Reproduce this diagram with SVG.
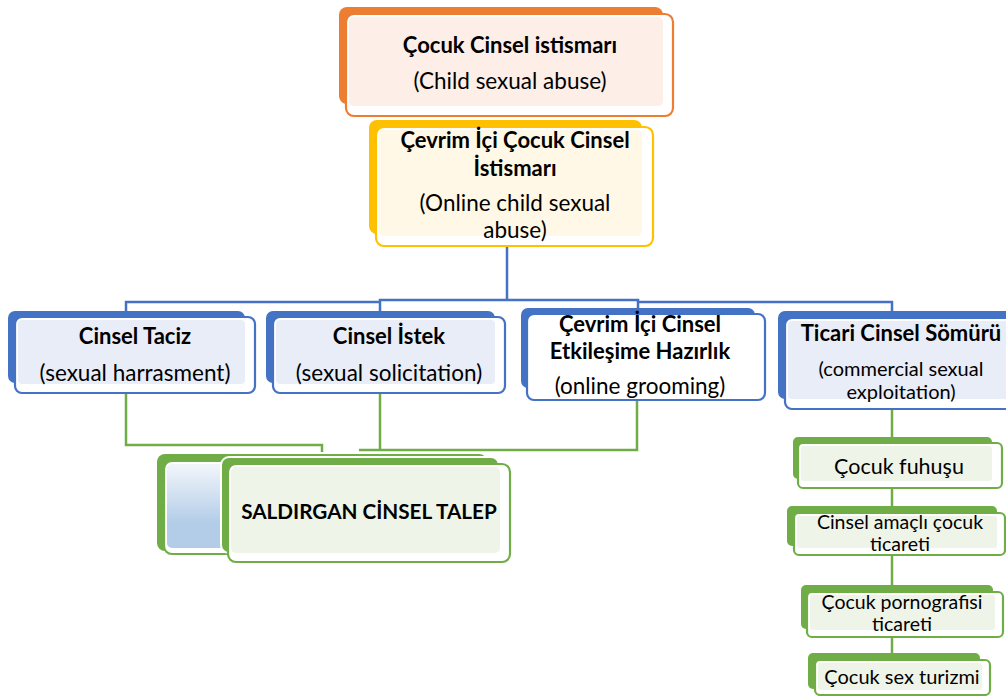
<svg xmlns="http://www.w3.org/2000/svg" width="1006" height="696" viewBox="0 0 1006 696">
<defs>
<style>
.t{font-family:Lato,"Open Sans","Liberation Sans",sans-serif;fill:#000;text-anchor:middle}
.b{font-weight:bold;font-size:22px}
.r{font-size:22.5px}
.s{font-size:20px}
.s2{font-size:19.5px}
.front{fill:#fff;stroke-width:2.2}
.bl{stroke:#4472C4;stroke-width:2.5;fill:none}
.gl{stroke:#70AD47;stroke-width:2.5;fill:none}
</style>
<linearGradient id="gb" x1="0" y1="0" x2="0" y2="1">
<stop offset="0" stop-color="#F2F6FB"/>
<stop offset="0.7" stop-color="#B3CDE8"/>
<stop offset="1" stop-color="#B3CDE8"/>
</linearGradient>
</defs>
<rect width="1006" height="696" fill="#fff"/>

<g id="connectors">
<path class="bl" d="M507,246 V300 M126,312 V302 H380 V300 H638 V302 H892 V312 M380,300 V312 M638,302 V312"/>
<path class="gl" d="M126,393 V445 H322 V452 M380,393 V450 M637,400 V450 H359 M892,409 V660"/>
</g>

<g id="n1">
<rect x="339" y="7" width="324" height="97" rx="8" fill="#ED7D31"/>
<rect x="346" y="14" width="327" height="102" rx="8" class="front" stroke="#ED7D31"/>
<rect x="349" y="17" width="314" height="89" rx="5" fill="#FDEEE7"/>
<text class="t b" x="510" y="53">Çocuk Cinsel istismarı</text>
<text class="t r" x="510" y="89">(Child sexual abuse)</text>
</g>

<g id="n2">
<rect x="369" y="120" width="273" height="114" rx="8" fill="#FFC000"/>
<rect x="376" y="127" width="277" height="119" rx="8" class="front" stroke="#FFC000"/>
<rect x="379" y="130" width="263" height="106" rx="5" fill="#FFF8E6"/>
<text class="t b" x="515" y="148">Çevrim İçi Çocuk Cinsel</text>
<text class="t b" x="515" y="176">İstismarı</text>
<text class="t r" x="515" y="211">(Online child sexual</text>
<text class="t r" x="515" y="238">abuse)</text>
</g>

<g id="n3">
<rect x="8" y="311" width="237" height="72" rx="7" fill="#4472C4"/>
<rect x="15" y="317" width="240" height="76" rx="7" class="front" stroke="#4472C4"/>
<rect x="18" y="320" width="227" height="64" rx="4" fill="#E9EDF7"/>
<text class="t b" x="135" y="344">Cinsel Taciz</text>
<text class="t r" x="135" y="381">(sexual harrasment)</text>
</g>

<g id="n4">
<rect x="266" y="311" width="229" height="72" rx="7" fill="#4472C4"/>
<rect x="273" y="317" width="232" height="76" rx="7" class="front" stroke="#4472C4"/>
<rect x="276" y="320" width="219" height="64" rx="4" fill="#E9EDF7"/>
<text class="t b" x="389" y="344">Cinsel İstek</text>
<text class="t r" x="389" y="381">(sexual solicitation)</text>
</g>

<g id="n5">
<rect x="521" y="308" width="234" height="80" rx="7" fill="#4472C4"/>
<rect x="527" y="314" width="238" height="86" rx="7" class="front" stroke="#4472C4"/>
<text class="t b" x="640" y="332">Çevrim İçi Cinsel</text>
<text class="t b" x="640" y="359">Etkileşime Hazırlık</text>
<text class="t r" x="640" y="394">(online grooming)</text>
</g>

<g id="n6">
<rect x="778" y="311" width="240" height="88" rx="7" fill="#4472C4"/>
<rect x="785" y="318" width="240" height="91" rx="7" class="front" stroke="#4472C4"/>
<rect x="788" y="321" width="230" height="78" rx="4" fill="#E9EDF7"/>
<text class="t b" x="901" y="341">Ticari Cinsel Sömürü</text>
<text class="t s" x="901" y="376">(commercial sexual</text>
<text class="t s" x="901" y="399">exploitation)</text>
</g>

<g id="n7">
<rect x="157" y="454" width="330" height="97" rx="8" fill="#70AD47"/>
<rect x="164" y="461" width="330" height="93" rx="8" class="front" stroke="#70AD47"/>
<rect x="167" y="464" width="317" height="84" rx="5" fill="url(#gb)"/>
<rect x="221" y="457" width="278" height="96" rx="8" fill="#70AD47" stroke="#fff" stroke-width="2"/>
<rect x="228" y="464" width="282" height="98" rx="8" class="front" stroke="#70AD47"/>
<rect x="231" y="467" width="269" height="86" rx="5" fill="#EFF4E9"/>
<text class="t" x="369" y="519" font-size="20.7" font-weight="bold">SALDIRGAN CİNSEL TALEP</text>
</g>

<g id="n8">
<rect x="793" y="437" width="199" height="42" rx="5" fill="#70AD47"/>
<rect x="798" y="443" width="204" height="45" rx="5" class="front" stroke="#70AD47"/>
<rect x="801" y="446" width="191" height="35" rx="3" fill="#EFF4E9"/>
<text class="t" x="899" y="474" font-size="21.5">Çocuk fuhuşu</text>
</g>

<g id="n9">
<rect x="787" y="506" width="210" height="40" rx="5" fill="#70AD47"/>
<rect x="794" y="513" width="211" height="42" rx="5" class="front" stroke="#70AD47"/>
<rect x="797" y="516" width="200" height="32" rx="3" fill="#EFF4E9"/>
<text class="t s2" x="900" y="529">Cinsel amaçlı çocuk</text>
<text class="t s2" x="900" y="551">ticareti</text>
</g>

<g id="n10">
<rect x="801" y="585" width="192" height="44" rx="5" fill="#70AD47"/>
<rect x="807" y="592" width="196" height="45" rx="5" class="front" stroke="#70AD47"/>
<rect x="810" y="595" width="185" height="35" rx="3" fill="#EFF4E9"/>
<text class="t s2" x="902" y="609">Çocuk pornografisi</text>
<text class="t s2" x="902" y="631">ticareti</text>
</g>

<g id="n11">
<rect x="808" y="653" width="172" height="36" rx="5" fill="#70AD47"/>
<rect x="815" y="660" width="175" height="35" rx="5" class="front" stroke="#70AD47"/>
<rect x="818" y="663" width="164" height="27" rx="3" fill="#EFF4E9"/>
<text class="t s" x="902" y="684">Çocuk sex turizmi</text>
</g>
</svg>
